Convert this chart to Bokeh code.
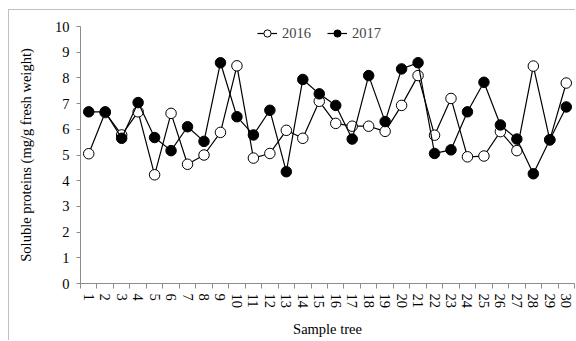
from bokeh.plotting import figure
from bokeh.layouts import column
from bokeh.models import (Range1d, FixedTicker, Legend, LegendItem)
from bokeh.embed import file_html
from bokeh.resources import INLINE

trees = [1, 2, 3, 4, 5, 6, 7, 8, 9, 10, 11, 12, 13, 14, 15,
         16, 17, 18, 19, 20, 21, 22, 23, 24, 25, 26, 27, 28, 29, 30]
y2016 = [5.05, 6.65, 5.78, 6.68, 4.23, 6.62, 4.64, 5.00, 5.88, 8.47,
         4.88, 5.06, 5.96, 5.65, 7.09, 6.23, 6.12, 6.12, 5.92, 6.93,
         8.09, 5.77, 7.20, 4.93, 4.96, 5.91, 5.17, 8.46, 5.59, 7.80]
y2017 = [6.68, 6.68, 5.65, 7.04, 5.68, 5.17, 6.10, 5.53, 8.59, 6.49,
         5.78, 6.74, 4.35, 7.94, 7.38, 6.93, 5.62, 8.09, 6.30, 8.35,
         8.59, 5.06, 5.20, 6.68, 7.83, 6.17, 5.62, 4.27, 5.59, 6.87]
y_ticks = [0, 1, 2, 3, 4, 5, 6, 7, 8, 9, 10]

FONT = "Liberation Serif"
FS = "14.5px"
AXIS_GRAY = "#8c8c8c"

p = figure(width=566, height=330, output_backend="svg", toolbar_location=None,
           x_range=Range1d(0.5, 30.5), y_range=Range1d(0, 10),
           min_border_left=71, min_border_right=1, min_border_top=16,
           min_border_bottom=54)
p.outline_line_color = None
p.xgrid.grid_line_color = None
p.ygrid.grid_line_color = None

# y axis
p.yaxis.ticker = FixedTicker(ticks=y_ticks)
p.yaxis.axis_line_color = AXIS_GRAY
p.yaxis.major_tick_line_color = AXIS_GRAY
p.yaxis.major_tick_out = 4
p.yaxis.major_tick_in = 0
p.yaxis.minor_tick_line_color = None
p.yaxis.major_label_standoff = 7
p.yaxis.major_label_text_font = FONT
p.yaxis.major_label_text_font_size = FS
p.yaxis.major_label_text_color = "black"
p.yaxis.axis_label = "Soluble proteins (mg/g fresh weight)"
p.yaxis.axis_label_text_font = FONT
p.yaxis.axis_label_text_font_size = FS
p.yaxis.axis_label_text_font_style = "normal"
p.yaxis.axis_label_text_color = "black"
p.yaxis.axis_label_standoff = 18

# x axis: labels at tree centres, ticks between trees
minor = [t - 0.5 for t in trees] + [trees[-1] + 0.5]
p.xaxis.ticker = FixedTicker(ticks=trees, minor_ticks=minor)
p.xaxis.axis_line_color = AXIS_GRAY
p.xaxis.major_tick_line_color = None
p.xaxis.major_tick_out = 5
p.xaxis.major_tick_in = 0
p.xaxis.minor_tick_line_color = AXIS_GRAY
p.xaxis.minor_tick_out = 5
p.xaxis.minor_tick_in = 0
p.xaxis.major_label_orientation = "vertical"
p.xaxis.major_label_standoff = 5
p.xaxis.major_label_text_font = FONT
p.xaxis.major_label_text_font_size = FS
p.xaxis.major_label_text_color = "black"
p.xaxis.axis_label = "Sample tree"
p.xaxis.axis_label_text_font = FONT
p.xaxis.axis_label_text_font_size = FS
p.xaxis.axis_label_text_font_style = "normal"
p.xaxis.axis_label_text_color = "black"
p.xaxis.axis_label_standoff = 10

l16 = p.line(trees, y2016, line_color="black", line_width=1.2)
s16 = p.scatter(trees, y2016, size=10.5, fill_color="white", line_color="black", line_width=1)
l17 = p.line(trees, y2017, line_color="black", line_width=1.2)
s17 = p.scatter(trees, y2017, size=10.5, fill_color="black", line_color="black", line_width=1)

legend = Legend(items=[LegendItem(label="2016", renderers=[l16, s16]),
                       LegendItem(label="2017", renderers=[l17, s17])],
                orientation="horizontal", location=(177, 241),
                padding=0, margin=0, spacing=16, label_standoff=5,
                glyph_width=20, glyph_height=18, label_height=12,
                label_text_font=FONT, label_text_font_size=FS,
                background_fill_alpha=0, border_line_color=None)
p.add_layout(legend, "center")

page = column(p, margin=(9, 0, 0, 8),
              styles={"border-left": "1px solid #c0c0c0",
                      "border-top": "1px solid #c0c0c0"})

open("out.html", "w").write(file_html(page, INLINE))
